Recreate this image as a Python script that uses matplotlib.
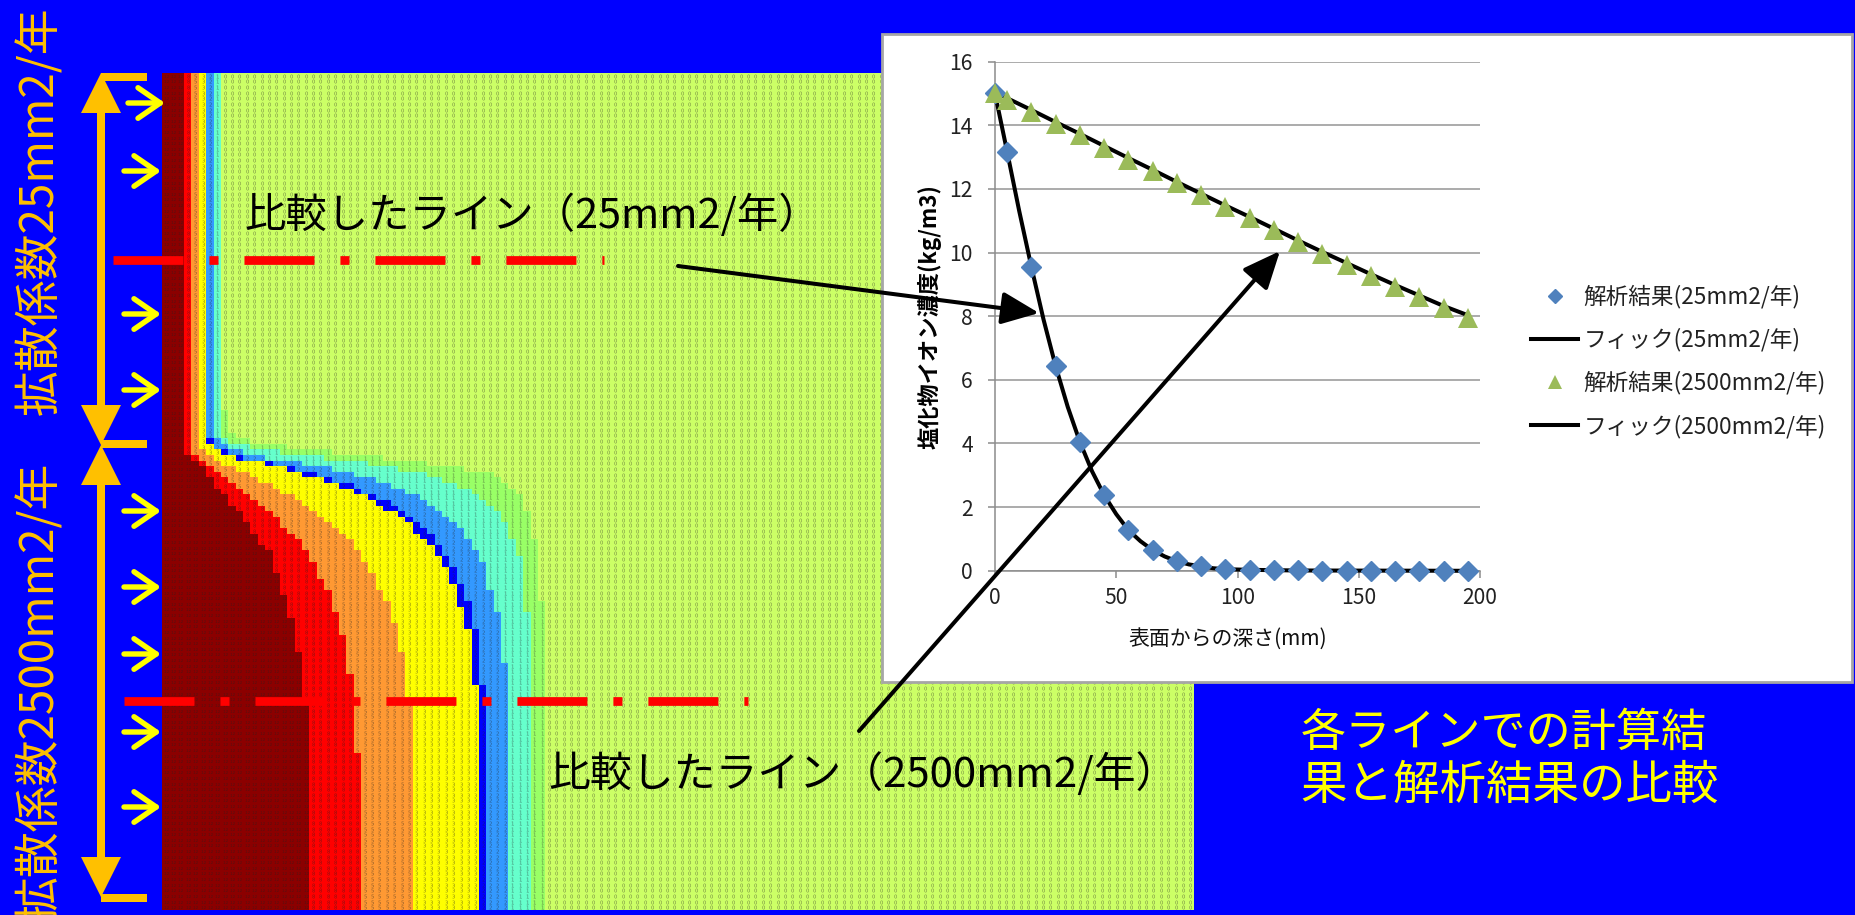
import numpy as np
import matplotlib
matplotlib.use('Agg')
import matplotlib.pyplot as plt
from matplotlib.colors import ListedColormap
from matplotlib.font_manager import FontProperties
from matplotlib.patches import Polygon, Rectangle
from matplotlib.path import Path
from matplotlib.textpath import TextPath

plt.rcParams['font.family'] = ['Noto Sans CJK JP', 'DejaVu Sans']
plt.rcParams['lines.scale_dashes'] = False

# chart values
depth_25 = [0, 5, 15, 25, 35, 45, 55, 65, 75, 85, 95, 105, 115, 125, 135, 145, 155, 165, 175, 185, 195]
result_25 = [15.0, 13.17, 9.55, 6.43, 4.05, 2.38, 1.28, 0.65, 0.3, 0.14, 0.05, 0.03, 0.01, 0.01, 0.0, 0.0, 0.0, 0.0, 0.0, 0.0, 0.0]
result_2500 = [15.0, 14.8, 14.43, 14.05, 13.68, 13.3, 12.92, 12.55, 12.17, 11.8, 11.43, 11.07, 10.7, 10.33, 9.97, 9.62, 9.27, 8.93, 8.6, 8.27, 7.95]
fick_x = [0, 5, 10, 15, 20, 25, 30, 35, 40, 45, 50, 55, 60, 65, 70, 75, 80, 85, 90, 95, 105, 125, 195]
fick_25 = [15.0, 13.17, 11.3, 9.55, 7.9, 6.43, 5.15, 4.05, 3.13, 2.38, 1.78, 1.28, 0.93, 0.65, 0.45, 0.3, 0.2, 0.14, 0.08, 0.05, 0.03, 0.01, 0.0]
fick_2500_x = [0, 5, 15, 25, 35, 45, 55, 65, 75, 85, 95, 105, 115, 125, 135, 145, 155, 165, 175, 185, 195]
fick_2500 = [15.05, 14.85, 14.48, 14.1, 13.73, 13.35, 12.97, 12.6, 12.22, 11.85, 11.48, 11.12, 10.75, 10.38, 10.02, 9.67, 9.32, 8.98, 8.65, 8.32, 8.03]

legend_labels = ['解析結果(25mm2/年)', 'フィック(25mm2/年)', '解析結果(2500mm2/年)', 'フィック(2500mm2/年)']

# contour map: first column of the next band, one value per row (149 rows, 140 columns)
edge_darkred = [3]*68 + [4, 5, 6, 6, 7, 7, 8, 9, 9, 10, 11, 11, 12, 12, 13, 13, 14, 15, 15, 15, 15] + [16]*4 + [17]*4 + [18]*6 + [19]*9 + [20]*37
edge_red = [4]*68 + [5, 6, 7, 8, 9, 10, 11, 12, 13, 14, 15, 16, 16, 17, 18, 19, 19, 20, 20, 21, 21, 21, 22, 22] + [23]*4 + [24]*4 + [25]*7 + [26]*14 + [27]*28
edge_orange = [5]*67 + [6, 7, 8, 10, 12, 13, 15, 16, 18, 19, 20, 21, 22, 23, 24, 25, 26, 26, 27, 27, 28, 28] + [29]*3 + [30]*2 + [31]*4 + [32]*5 + [33]*9 + [34]*37
edge_yellow = [6]*66 + [7, 8, 10, 14, 17, 19, 22, 24, 26, 28, 29, 30, 32, 33, 34, 34, 35, 36, 37, 37, 38, 38, 39] + [39]*2 + [40]*4 + [41]*4 + [42]*10 + [43]*40
edge_pure = [6]*65 + [7, 7, 9, 11, 15, 18, 21, 23, 26, 27, 29, 31, 32, 33, 34, 35, 36, 37, 37, 38, 38, 39, 39, 40] + [40]*2 + [41]*3 + [42]*5 + [43]*10 + [44]*40
edge_blue = [7]*65 + [8, 9, 11, 14, 19, 23, 26, 29, 31, 33, 35, 36, 37, 38, 39, 40, 41, 41, 42, 42, 43, 43, 44, 44] + [44]*3 + [45]*4 + [46]*9 + [47]*44
edge_cyan = [8]*65 + [9, 12, 16, 22, 28, 32, 36, 38, 40, 42, 43, 44, 45, 46, 46, 47, 47, 47, 48, 48, 48, 49, 49, 49] + [49]*7 + [50]*53
edge_green = [8]*60 + [9]*4 + [10, 12, 17, 23, 30, 36, 41, 45, 46, 47, 48, 49, 49, 49, 50, 50, 50, 50, 50, 51] + [51]*10 + [52]*55
band_colors = ['#8B0000', '#FF0000', '#FF9933', '#FFFF00', '#0000FF', '#3399FF', '#66FFCC', '#99FF66', '#CCFF66']
band_digits = ['12', '8', '5', '3', '2', '2', '1', '1', '0']

edges = np.array([edge_darkred, edge_red, edge_orange, edge_yellow, edge_pure, edge_blue, edge_cyan, edge_green])
n_rows, n_cols = edges.shape[1], 140
grid = (np.arange(n_cols)[None, None, :] >= edges[:, :, None]).sum(axis=0)

BLUE = '#0000FF'
ORANGE = '#FFC000'
YELLOW = '#FFFF00'
W, H = 1855, 915
fig = plt.figure(figsize=(W / 100, H / 100), dpi=100, facecolor=BLUE)


def canvas(z):
    a = fig.add_axes([0, 0, 1, 1], zorder=z)
    a.set_xlim(0, W)
    a.set_ylim(H, 0)
    a.axis('off')
    return a


base = canvas(0)

# map
map_l, map_r, map_t, map_b = 162, 1194, 73, 910
base.imshow(grid, cmap=ListedColormap(band_colors), vmin=-0.5, vmax=8.5, extent=(map_l, map_r, map_b, map_t),
            aspect='auto', interpolation='nearest', zorder=1)

cell_w = (map_r - map_l) / n_cols
cell_h = (map_b - map_t) / n_rows
cx = map_l + (np.arange(n_cols) + 0.5) * cell_w
cy = map_t + (np.arange(n_rows) + 0.5) * cell_h
xx, yy = np.meshgrid(cx, cy)
fp = FontProperties(family='DejaVu Sans')
for k, label in enumerate(band_digits):
    p = TextPath((0, 0), label, size=1, prop=fp)
    v = p.vertices
    mid = (v.max(axis=0) + v.min(axis=0)) / 2
    marker = Path(v - mid, p.codes)
    sel = grid == k
    base.scatter(xx[sel], yy[sel], marker=marker, s=11 if len(label) > 1 else 7.5,
                 c='#222222', alpha=0.55, linewidths=0, zorder=2)

# orange double arrows
shaft_x = 101
for top, bot in [(73, 445), (445, 897)]:
    base.add_patch(Rectangle((shaft_x - 4, top + 30), 8, bot - top - 60, color=ORANGE, lw=0, zorder=3))
    base.add_patch(Polygon([(shaft_x, top), (shaft_x - 20, top + 40), (shaft_x + 20, top + 40)], color=ORANGE, lw=0, zorder=3))
    base.add_patch(Polygon([(shaft_x, bot), (shaft_x - 20, bot - 40), (shaft_x + 20, bot - 40)], color=ORANGE, lw=0, zorder=3))
for y in [76.5, 444, 898]:
    base.add_patch(Rectangle((shaft_x, y - 4), 46, 8, color=ORANGE, lw=0, zorder=3))

# yellow arrows
for xs, xe, y in [(128, 165, 103), (124, 161, 171), (124, 161, 314), (124, 161, 390),
                  (124, 161, 511), (124, 161, 587), (124, 161, 654), (124, 161, 732), (124, 161, 807)]:
    base.annotate('', xy=(xe, y), xytext=(xs, y), zorder=4,
                  arrowprops=dict(arrowstyle='->,head_length=0.8,head_width=0.55', color=YELLOW, lw=3.9,
                                  mutation_scale=20, shrinkA=0, shrinkB=0))

# compared lines
for xs, xe, y in [(113, 604, 260), (124, 748, 701)]:
    base.plot([xs, xe], [y, y], color='#FF0000', lw=6.3, solid_capstyle='butt', dash_capstyle='butt',
              dashes=(50.4, 18.7, 6.5, 18.7), zorder=5)

base.text(244, 215, '比較したライン（25mm2/年）', fontsize=29.8, color='black', va='center', ha='left', zorder=6)
base.text(548, 774, '比較したライン（2500mm2/年）', fontsize=30.2, color='black', va='center', ha='left', zorder=6)
base.text(40, 211, '拡散係数25mm2/年', fontsize=33, color=ORANGE, rotation=90, va='center', ha='center', zorder=6)
base.text(40, 462, '拡散係数2500mm2/年', fontsize=33, color=ORANGE, rotation=90, va='top', ha='center', zorder=6)
base.text(1301, 733, '各ラインでの計算結', fontsize=32.5, color=YELLOW, va='center', ha='left', zorder=6)
base.text(1300, 786, '果と解析結果の比較', fontsize=33.5, color=YELLOW, va='center', ha='left', zorder=6)

# white chart panel
base.add_patch(Rectangle((882, 34), 970, 648, facecolor='white', edgecolor='#A6A6A6', lw=2, zorder=7))

# chart
left, right, top, bottom = 995, 1480, 61.6, 570.8
ax = fig.add_axes([left / W, 1 - bottom / H, (right - left) / W, (bottom - top) / H], zorder=1)
ax.patch.set_alpha(0)
ax.plot(fick_x, fick_25, color='black', lw=2.9, clip_on=False, zorder=3, label=legend_labels[1])
ax.plot(fick_2500_x, fick_2500, color='black', lw=2.9, clip_on=False, zorder=3, label=legend_labels[3])
ax.plot(depth_25, result_25, ls='none', marker='D', ms=9.8, color='#4F81BD', clip_on=False, zorder=4, label=legend_labels[0])
ax.plot(depth_25, result_2500, ls='none', marker='^', ms=15, mew=0, color='#9BBB59', clip_on=False, zorder=5, label=legend_labels[2])
ax.set_xlim(0, 200)
ax.set_ylim(0, 16)
ax.set_xticks([0, 50, 100, 150, 200])
ax.set_yticks(np.arange(0, 17, 2))
ax.grid(True, axis='y', color='#ABABAB', lw=1.4)
ax.set_axisbelow(True)
for s in ['top', 'right']:
    ax.spines[s].set_visible(False)
for s in ['left', 'bottom']:
    ax.spines[s].set_color('#8C8C8C')
    ax.spines[s].set_linewidth(1.1)
ax.tick_params(axis='both', colors='#8C8C8C', length=5, width=1.1, labelsize=15.2, labelcolor='#222222')
ax.tick_params(axis='y', pad=11)
ax.tick_params(axis='x', pad=7)
ax.set_xlabel('表面からの深さ(mm)', fontsize=15, color='#111111', labelpad=13, x=0.48)
ax.set_ylabel('塩化物イオン濃度(kg/m3)', fontsize=16, fontweight='bold', color='black', labelpad=6)

h, l = ax.get_legend_handles_labels()
order = [legend_labels.index(t) for t in l]
pairs = sorted(zip(order, h, l), key=lambda t: t[0])
ax.legend([p[1] for p in pairs], [p[2] for p in pairs], loc='upper left', frameon=False, fontsize=16.3, markerscale=0.68,
          bbox_to_anchor=(1524 / W, 1 - 278 / H), bbox_transform=fig.transFigure,
          labelspacing=0.86, handlelength=2.1, handletextpad=0.22, labelcolor='#222222', borderpad=0.3, borderaxespad=0)

# black arrows on top of the chart
over = canvas(2)
over.patch.set_alpha(0)
for start, tip in [((678, 266), (1039, 313)), ((859, 731), (1280, 251))]:
    over.annotate('', xy=tip, xytext=start,
                  arrowprops=dict(arrowstyle='-|>,head_length=1.15,head_width=0.5', color='black', lw=2.9,
                                  mutation_scale=20, shrinkA=0, shrinkB=0))

fig.savefig('out.png', dpi=100, facecolor=BLUE)
